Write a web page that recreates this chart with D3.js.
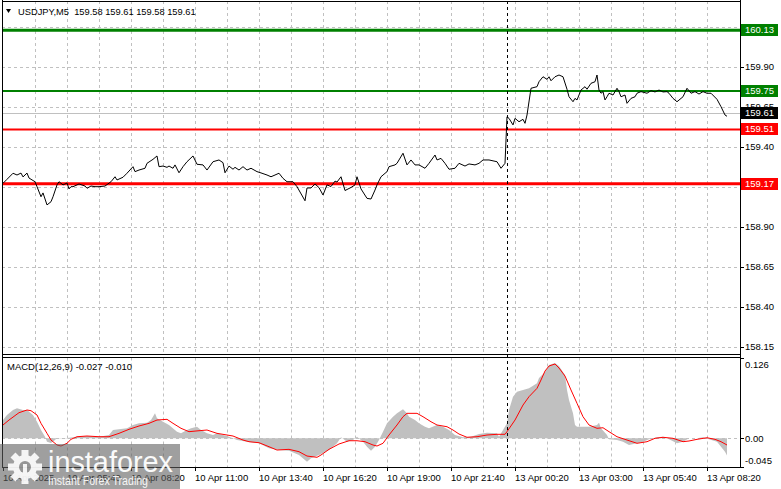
<!DOCTYPE html>
<html><head><meta charset="utf-8">
<script src="https://cdn.jsdelivr.net/npm/d3@7"></script>
<style>html,body{margin:0;padding:0;background:#fff;overflow:hidden}svg{display:block}text{font-family:"Liberation Sans",Arial,sans-serif}</style>
</head><body><svg id="c" width="781" height="489"></svg>
<script>
// ---------- DATA ----------
const symbolTitle = "USDJPY,M5  159.58 159.61 159.58 159.61";
const macdTitle = "MACD(12,26,9) -0.027 -0.010";
// [bar index, close]
const priceSeries = [[0,159.173],[2,159.198],[5,159.236],[7,159.225],[9,159.237],[10,159.213],[12,159.237],[13,159.206],[16,159.183],[17,159.152],[19,159.089],[20,159.113],[22,159.038],[24,159.058],[25,159.089],[27,159.163],[28,159.183],[30,159.163],[32,159.175],[33,159.138],[34,159.152],[35,159.152],[37,159.163],[38,159.169],[41,159.156],[42,159.142],[44,159.156],[46,159.152],[48,159.152],[51,159.156],[54,159.183],[56,159.214],[57,159.194],[60,159.211],[62,159.236],[65,159.277],[66,159.246],[68,159.256],[71,159.267],[72,159.298],[75,159.323],[77,159.344],[78,159.277],[80,159.281],[82,159.273],[83,159.281],[85,159.267],[86,159.288],[88,159.239],[90,159.277],[92,159.308],[95,159.344],[97,159.292],[100,159.288],[102,159.256],[105,159.308],[108,159.319],[110,159.302],[111,159.239],[113,159.281],[115,159.261],[116,159.273],[118,159.256],[120,159.277],[122,159.256],[124,159.267],[127,159.246],[129,159.238],[132,159.225],[134,159.214],[136,159.225],[138,159.236],[140,159.204],[142,159.183],[145,159.183],[147,159.152],[151,159.064],[152,159.144],[154,159.144],[156,159.169],[158,159.146],[160,159.100],[162,159.163],[164,159.153],[166,159.187],[167,159.181],[169,159.214],[171,159.128],[174,159.147],[176,159.163],[177,159.214],[179,159.138],[182,159.079],[184,159.075],[186,159.131],[187,159.163],[189,159.214],[192,159.246],[193,159.277],[196,159.288],[197,159.298],[200,159.361],[202,159.288],[204,159.319],[206,159.288],[208,159.288],[211,159.267],[213,159.298],[216,159.350],[217,159.319],[219,159.329],[221,159.298],[223,159.261],[226,159.267],[228,159.298],[231,159.281],[233,159.294],[236,159.288],[238,159.298],[240,159.319],[243,159.319],[247,159.308],[249,159.267],[251,159.298],[252,159.589],[253,159.579],[255,159.538],[256,159.579],[258,159.558],[260,159.573],[261,159.548],[262,159.600],[264,159.767],[267,159.777],[268,159.808],[270,159.839],[272,159.823],[273,159.839],[274,159.814],[276,159.839],[278,159.850],[280,159.839],[282,159.761],[283,159.714],[285,159.683],[286,159.704],[287,159.694],[289,159.756],[291,159.777],[292,159.761],[294,159.798],[296,159.808],[297,159.850],[298,159.756],[299,159.736],[300,159.746],[301,159.694],[302,159.714],[303,159.736],[305,159.725],[307,159.767],[308,159.746],[309,159.714],[311,159.725],[312,159.673],[314,159.704],[316,159.714],[317,159.736],[319,159.746],[322,159.736],[324,159.752],[326,159.744],[328,159.756],[330,159.744],[332,159.746],[333,159.736],[335,159.704],[337,159.683],[340,159.714],[342,159.767],[344,159.736],[346,159.746],[348,159.731],[350,159.746],[352,159.736],[354,159.736],[357,159.698],[359,159.652],[361,159.600],[362,159.592]];
// [bar index, MACD main (histogram)]
const macdHist = [[0,0.0287],[2,0.0366],[5,0.0444],[7,0.0471],[10,0.0444],[12,0.0444],[15,0.0366],[17,0.0260],[19,0.0130],[21,0.0025],[22,-0.0053],[24,-0.0074],[26,-0.0027],[27,0.0005],[32,0.0005],[37,0.0025],[42,0.0036],[48,0.0025],[53,0.0052],[55,0.0130],[58,0.0141],[62,0.0157],[65,0.0209],[68,0.0235],[72,0.0245],[74,0.0287],[76,0.0392],[77,0.0314],[80,0.0260],[83,0.0209],[87,0.0104],[89,0.0078],[92,0.0130],[94,0.0157],[97,0.0182],[99,0.0130],[102,0.0078],[105,0.0052],[107,0.0078],[110,0.0052],[113,0.0025],[117,-0.0027],[122,-0.0053],[128,-0.0078],[133,-0.0157],[138,-0.0184],[143,-0.0195],[148,-0.0262],[152,-0.0367],[154,-0.0314],[158,-0.0262],[163,-0.0184],[167,-0.0078],[169,0.0016],[172,-0.0053],[175,-0.0027],[177,0.0025],[180,-0.0053],[182,-0.0132],[184,-0.0195],[186,-0.0132],[188,-0.0027],[190,0.0104],[192,0.0235],[195,0.0339],[197,0.0392],[200,0.0455],[202,0.0392],[203,0.0339],[206,0.0287],[208,0.0235],[211,0.0182],[213,0.0157],[217,0.0209],[220,0.0182],[223,0.0130],[226,0.0052],[230,0.0016],[234,0.0025],[238,0.0067],[242,0.0088],[247,0.0078],[248,0.0025],[252,0.0235],[253,0.0444],[255,0.0653],[257,0.0731],[260,0.0758],[263,0.0784],[267,0.0863],[268,0.0946],[271,0.1040],[273,0.1150],[276,0.1181],[278,0.1134],[281,0.0993],[282,0.0759],[283,0.0601],[285,0.0392],[286,0.0209],[287,0.0182],[290,0.0182],[293,0.0182],[297,0.0209],[298,0.0245],[299,0.0157],[302,0.0052],[303,-0.0016],[307,-0.0027],[310,-0.0053],[313,-0.0105],[317,-0.0078],[320,-0.0053],[323,-0.0016],[327,0.0016],[330,0.0025],[333,-0.0016],[337,-0.0078],[340,-0.0053],[343,0.0000],[347,0.0000],[350,0.0016],[353,-0.0016],[357,-0.0053],[359,-0.0132],[361,-0.0210],[362,-0.0270]];
// [bar index, MACD signal]
const macdSignal = [[0,0.0209],[3,0.0287],[8,0.0402],[12,0.0444],[14,0.0433],[17,0.0366],[19,0.0235],[22,0.0078],[24,-0.0027],[27,-0.0105],[29,-0.0121],[32,-0.0078],[34,-0.0016],[37,0.0025],[42,0.0036],[48,0.0025],[53,0.0025],[58,0.0078],[63,0.0141],[68,0.0193],[73,0.0235],[77,0.0287],[82,0.0298],[85,0.0235],[89,0.0157],[93,0.0104],[98,0.0119],[102,0.0130],[107,0.0078],[112,0.0052],[115,0.0036],[120,-0.0027],[123,-0.0053],[128,-0.0069],[133,-0.0132],[137,-0.0184],[143,-0.0173],[148,-0.0210],[152,-0.0278],[157,-0.0298],[159,-0.0262],[163,-0.0173],[168,-0.0089],[173,-0.0038],[177,-0.0038],[181,-0.0053],[185,-0.0105],[187,-0.0121],[190,-0.0078],[193,0.0052],[197,0.0209],[200,0.0339],[202,0.0392],[207,0.0392],[210,0.0339],[214,0.0260],[217,0.0209],[222,0.0182],[225,0.0130],[228,0.0067],[232,0.0016],[237,0.0025],[242,0.0052],[247,0.0063],[251,0.0063],[252,0.0104],[256,0.0287],[260,0.0522],[263,0.0653],[267,0.0784],[269,0.0915],[271,0.1056],[273,0.1134],[276,0.1166],[278,0.1103],[281,0.0977],[284,0.0758],[287,0.0549],[290,0.0339],[293,0.0209],[297,0.0157],[300,0.0166],[303,0.0104],[307,0.0025],[312,-0.0027],[317,-0.0078],[322,-0.0053],[326,0.0000],[330,0.0016],[335,0.0000],[340,-0.0053],[343,-0.0042],[347,-0.0016],[352,0.0009],[356,-0.0016],[359,-0.0053],[362,-0.0105]];
const priceTicks = [158.15,158.40,158.65,158.90,159.15,159.40,159.65,159.90,160.15];
const macdTickValues = [0.126,0,-0.045];
const macdTickLabels = ["0.126","0.00","-0.045"];
const timeTickIndex = [0,32,64,96,128,160,192,224,256,288,320,352];
const timeTickLabels = ["10 Apr 2025","10 Apr 05:40","10 Apr 08:20","10 Apr 11:00","10 Apr 13:40","10 Apr 16:20","10 Apr 19:00","10 Apr 21:40","13 Apr 00:20","13 Apr 03:00","13 Apr 05:40","13 Apr 08:20"];
const levelValues = [160.13,159.75,159.51,159.17];
const levelKinds = ["green","green","red","red"];
const bidValue = 159.61;
const sessionBreakIndex = 252;

// ---------- LAYOUT ----------
const L=2, R=740, PT=1, PB=354, MT=357.5, MB=467;
const svg = d3.select("#c");
svg.append("rect").attr("width",781).attr("height",489).attr("fill","#fff");
const x = d3.scaleLinear().domain([-0.5,368.5]).range([L,R]);
const y = d3.scaleLinear().domain([158.15,159.90]).range([347,67]);
const ym = d3.scaleLinear().domain([-0.045,0.126]).range([MB,358]);
const FS = 9.5;
const colorOf = {green:"#008000", red:"#ff0000"};
const widthOf = [3,2,2,3];

const defs = svg.append("defs");
defs.append("clipPath").attr("id","cp").append("rect").attr("x",L).attr("y",PT).attr("width",R-L).attr("height",PB-PT);
defs.append("clipPath").attr("id","cm").append("rect").attr("x",L).attr("y",MT).attr("width",R-L).attr("height",MB-MT);

const gridIdx = d3.range(16,353,16);
const pg = svg.append("g").attr("clip-path","url(#cp)");
const mg = svg.append("g").attr("clip-path","url(#cm)");

// price grid
pg.selectAll(".vg").data(gridIdx).join("line")
  .attr("x1",d=>Math.round(x(d))+0.5).attr("x2",d=>Math.round(x(d))+0.5).attr("y1",PT).attr("y2",PB)
  .attr("stroke","#c0c0c0").attr("stroke-dasharray","3,3");
pg.selectAll(".hg").data(priceTicks).join("line")
  .attr("x1",L).attr("x2",R).attr("y1",d=>Math.round(y(d))+0.5).attr("y2",d=>Math.round(y(d))+0.5)
  .attr("stroke","#c0c0c0").attr("stroke-dasharray","3,3");
// bid line
pg.append("line").attr("x1",L).attr("x2",R).attr("y1",Math.round(y(bidValue))+0.5).attr("y2",Math.round(y(bidValue))+0.5)
  .attr("stroke","#c0c0c0");
// levels
pg.selectAll(".lv").data(levelValues).join("line")
  .attr("x1",L).attr("x2",R).attr("y1",d=>y(d)).attr("y2",d=>y(d))
  .attr("stroke",(d,i)=>colorOf[levelKinds[i]]).attr("stroke-width",(d,i)=>widthOf[i]);
// price line
pg.append("path").datum(priceSeries)
  .attr("d",d3.line().x(d=>x(d[0])).y(d=>y(d[1])))
  .attr("fill","none").attr("stroke","#000").attr("stroke-width",1);

// macd grid
mg.selectAll(".vg").data(gridIdx).join("line")
  .attr("x1",d=>Math.round(x(d))+0.5).attr("x2",d=>Math.round(x(d))+0.5).attr("y1",MT).attr("y2",MB)
  .attr("stroke","#c0c0c0").attr("stroke-dasharray","3,3");
mg.append("path").datum(macdHist)
  .attr("d",d3.area().x(d=>x(d[0])).y0(ym(0)).y1(d=>ym(d[1])))
  .attr("fill","#c0c0c0");
mg.append("line").attr("x1",L).attr("x2",R).attr("y1",Math.round(ym(0))+0.5).attr("y2",Math.round(ym(0))+0.5)
  .attr("stroke","#c0c0c0").attr("stroke-dasharray","3,3");
mg.append("path").datum(macdSignal)
  .attr("d",d3.line().x(d=>x(d[0])).y(d=>ym(d[1])))
  .attr("fill","none").attr("stroke","#ff0000").attr("stroke-width",1);

// session separator
svg.append("line").attr("x1",Math.round(x(sessionBreakIndex))+0.5).attr("x2",Math.round(x(sessionBreakIndex))+0.5)
  .attr("y1",PT).attr("y2",MB).attr("stroke","#000").attr("stroke-dasharray","3,3");

// frames
const fr = svg.append("g").attr("stroke","#000").attr("fill","none");
fr.append("line").attr("x1",L+0.5).attr("x2",L+0.5).attr("y1",0).attr("y2",MB+0.5);
fr.append("line").attr("x1",R+0.5).attr("x2",R+0.5).attr("y1",0).attr("y2",MB+0.5);
fr.append("line").attr("x1",L).attr("x2",R).attr("y1",PT+0.5).attr("y2",PT+0.5);
fr.append("line").attr("x1",L).attr("x2",R).attr("y1",PB+0.5).attr("y2",PB+0.5);
fr.append("line").attr("x1",L).attr("x2",R).attr("y1",MT).attr("y2",MT);
fr.append("line").attr("x1",L).attr("x2",R).attr("y1",MB+0.5).attr("y2",MB+0.5);

// price axis
const pa = svg.append("g");
pa.selectAll("line").data(priceTicks).join("line")
  .attr("x1",R).attr("x2",R+4).attr("y1",d=>Math.round(y(d))+0.5).attr("y2",d=>Math.round(y(d))+0.5).attr("stroke","#000");
pa.selectAll("text").data(priceTicks).join("text")
  .attr("x",745).attr("y",d=>y(d)).attr("dy","0.35em").attr("font-size",FS).attr("fill","#000")
  .text(d=>d.toFixed(2));
// level boxes
const boxes = levelValues.map((v,i)=>({v, c:colorOf[levelKinds[i]]})).concat([{v:bidValue,c:"#000"}]);
const bg = svg.append("g");
bg.selectAll("rect").data(boxes).join("rect")
  .attr("x",741).attr("y",d=>Math.round(y(d.v))-6).attr("width",37).attr("height",12).attr("fill",d=>d.c);
bg.selectAll("text").data(boxes).join("text")
  .attr("x",745).attr("y",d=>Math.round(y(d.v))).attr("dy","0.35em").attr("font-size",FS).attr("fill","#fff")
  .text(d=>d.v.toFixed(2));

// macd axis
const ma = svg.append("g");
ma.selectAll("line").data(macdTickValues).join("line")
  .attr("x1",R).attr("x2",R+4).attr("y1",d=>Math.round(ym(d))+0.5).attr("y2",d=>Math.round(ym(d))+0.5).attr("stroke","#000");
ma.selectAll("text").data(macdTickValues).join("text")
  .attr("x",745).attr("y",d=>Math.min(Math.max(ym(d),365),461)).attr("dy","0.35em").attr("font-size",FS).attr("fill","#000")
  .text((d,i)=>macdTickLabels[i]);

// time axis
const ta = svg.append("g");
ta.selectAll("line").data(timeTickIndex).join("line")
  .attr("x1",d=>Math.round(x(d))+0.5).attr("x2",d=>Math.round(x(d))+0.5).attr("y1",MB).attr("y2",MB+4).attr("stroke","#000");
ta.selectAll("text").data(timeTickIndex).join("text")
  .attr("x",d=>x(d)).attr("y",481).attr("font-size",FS).attr("fill","#000")
  .text((d,i)=>timeTickLabels[i]);

// titles
svg.append("path").attr("d","M6,9L11,9L8.5,13Z").attr("fill","#000");
svg.append("text").attr("x",18).attr("y",15).attr("font-size",9.3).attr("fill","#000")
  .style("white-space","pre").text(symbolTitle);
svg.append("text").attr("x",7).attr("y",370).attr("font-size",FS).attr("fill","#000").text(macdTitle);

// watermark
const wm = svg.append("g");
wm.append("rect").attr("x",0).attr("y",444).attr("width",180).attr("height",45).attr("fill","rgb(95,95,95)").attr("opacity",0.6);
const gear = wm.append("g").attr("transform","translate(25,467)").attr("fill","#fff").attr("opacity",0.9);
d3.range(8).forEach(k=>{
  gear.append("rect").attr("x",-3.5).attr("y",-17).attr("width",7).attr("height",8).attr("transform",`rotate(${k*45})`);
});
gear.append("circle").attr("r",12);
gear.append("circle").attr("r",6).attr("fill","rgb(150,150,150)");
gear.append("rect").attr("x",-2).attr("y",-3).attr("width",4).attr("height",14).attr("fill","#fff");
wm.append("text").attr("x",48).attr("y",472).attr("font-size",30).attr("fill","#fff").attr("opacity",0.95)
  .attr("font-family","Lato, 'Open Sans', sans-serif").attr("font-weight",300)
  .attr("textLength",125).attr("lengthAdjust","spacingAndGlyphs").text("instaforex");
wm.append("text").attr("x",48).attr("y",485).attr("font-size",12).attr("fill","#fff").attr("opacity",0.9)
  .attr("textLength",100).attr("lengthAdjust","spacingAndGlyphs").text("Instant Forex Trading");
</script></body></html>
